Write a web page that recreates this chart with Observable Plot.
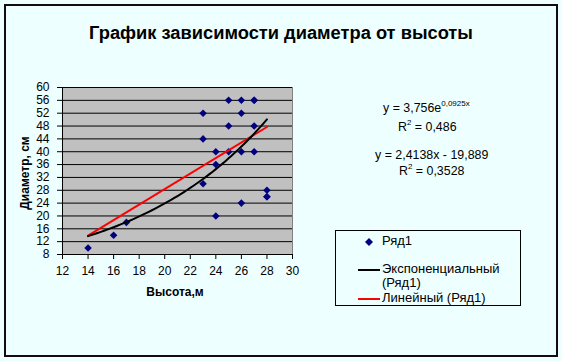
<!DOCTYPE html>
<html>
<head>
<meta charset="utf-8">
<script src="https://cdn.jsdelivr.net/npm/d3@7"></script>
<script src="https://cdn.jsdelivr.net/npm/@observablehq/plot@0.6"></script>
<style>
  html, body { margin: 0; padding: 0; background: #EEFFFF; }
  #wrap { position: relative; width: 562px; height: 361px; font-family: "Liberation Sans", Arial, sans-serif; color: #000; }
  #border { position: absolute; left: 4px; top: 4px; width: 550px; height: 349px; border: 2px solid #140a14; }
  #title { position: absolute; left: 0; width: 562px; top: 22px; text-align: center; font-weight: bold; font-size: 18.3px; }
  .eq { position: absolute; font-size: 12.4px; white-space: nowrap; text-align: center; }
  .eq sup { font-size: 8px; vertical-align: 0; position: relative; top: -6px; }
  #legend { position: absolute; left: 335px; top: 230px; width: 184px; height: 74px; border: 1px solid #000; font-size: 13px; }
  .li { position: absolute; white-space: nowrap; }
  .ln { position: absolute; height: 2px; width: 22px; }
  #ylab { position: absolute; left: 25px; top: 173px; transform: translate(-50%, -50%) rotate(-90deg); font-weight: bold; font-size: 12px; white-space: nowrap; }
  #xlab { position: absolute; left: 175px; top: 292px; transform: translate(-50%, -50%); font-weight: bold; font-size: 12px; white-space: nowrap; }
  svg { position: absolute; left: 0; top: 0; }
</style>
</head>
<body>
<div id="wrap">
  <div id="border"></div>
  <div id="chart"></div>
  <div id="title"></div>
  <div id="ylab"></div>
  <div id="xlab"></div>
  <div id="eqs"></div>
  <div id="legend"></div>
</div>
<script>
// Data
const heights   = [14, 16, 17, 23, 23, 23, 24, 24, 24, 25, 25, 25, 26, 26, 26, 26, 27, 27, 27, 27, 28, 28, 28];
const diameters = [10, 14, 18, 52, 44, 30, 40, 36, 20, 56, 48, 40, 56, 52, 40, 24, 56, 56, 48, 40, 28, 26, 26];
const xTicks = [12, 14, 16, 18, 20, 22, 24, 26, 28, 30];
const yTicks = [8, 12, 16, 20, 24, 28, 32, 36, 40, 44, 48, 52, 56, 60];

// Trendline coefficients, as printed on the chart
const expA = 3.756, expB = 0.0925;     // y = 3,756e^(0,0925x)
const linK = 2.4138, linC = -19.889;   // y = 2,4138x - 19,889
const trendRange = [14, 28];

const titleText = "График зависимости диаметра от высоты";
const xLabel = "Высота,м";
const yLabel = "Диаметр, см";
const seriesName = "Ряд1";
const expName = "Экспоненциальный (Ряд1)";
const linName = "Линейный (Ряд1)";

const points = heights.map((h, i) => ({x: h, y: diameters[i]}));
const xs = d3.range(trendRange[0], trendRange[1] + 0.0001, 0.25);
const expLine = xs.map(x => ({x, y: expA * Math.exp(expB * x)}));
const linLine = trendRange.map(x => ({x, y: linK * x + linC}));

const plot = Plot.plot({
  width: 562, height: 361,
  marginLeft: 62, marginRight: 270, marginTop: 87, marginBottom: 107,
  style: {background: "transparent", fontFamily: "Liberation Sans, Arial, sans-serif", fontSize: "12px", color: "#000"},
  x: {domain: [12, 30]},
  y: {domain: [8, 60]},
  marks: [
    Plot.frame({fill: "#C0C0C0", stroke: "#808080"}),
    Plot.ruleY(yTicks, {stroke: "#000", strokeWidth: 1}),
    Plot.ruleX([12], {stroke: "#000"}),
    Plot.ruleY([8], {stroke: "#000"}),
    Plot.axisX({ticks: xTicks, tickSize: 5, tickPadding: 7, label: null, fontSize: 12}),
    Plot.axisY({ticks: yTicks, tickSize: 5, tickPadding: 8, label: null, fontSize: 12}),
    Plot.dot(points, {x: "x", y: "y", symbol: "diamond2", r: 3.4, fill: "#000080", stroke: "none"}),
    Plot.line(linLine, {x: "x", y: "y", stroke: "#FF0000", strokeWidth: 2}),
    Plot.line(expLine, {x: "x", y: "y", stroke: "#000", strokeWidth: 2, curve: "linear"})
  ]
});
document.getElementById("chart").append(plot);

document.getElementById("title").textContent = titleText;
document.getElementById("ylab").textContent = yLabel;
document.getElementById("xlab").textContent = xLabel;

const eqs = document.getElementById("eqs");
eqs.innerHTML = `
  <div class="eq" style="left:383px; top:101px;">y = 3,756e<sup>0,0925x</sup></div>
  <div class="eq" style="left:398px; top:120px;">R<sup>2</sup> = 0,486</div>
  <div class="eq" style="left:375px; top:148px;">y = 2,4138x - 19,889</div>
  <div class="eq" style="left:399px; top:164px;">R<sup>2</sup> = 0,3528</div>`;

const lg = document.getElementById("legend");
lg.innerHTML = `
  <svg width="12" height="12" style="left:27px; top:5px;"><path d="M6 2 L10 6 L6 10 L2 6 Z" fill="#000080"/></svg>
  <div class="li" style="left:46px; top:2px;">${seriesName}</div>
  <div class="ln" style="left:22px; top:38px; background:#000;"></div>
  <div class="li" style="left:46px; top:31px; line-height:14px;">${expName.replace(" (", "<br>(")}</div>
  <div class="ln" style="left:22px; top:67px; background:#FF0000;"></div>
  <div class="li" style="left:46px; top:60px; line-height:14px;">${linName}</div>`;
</script>
</body>
</html>
